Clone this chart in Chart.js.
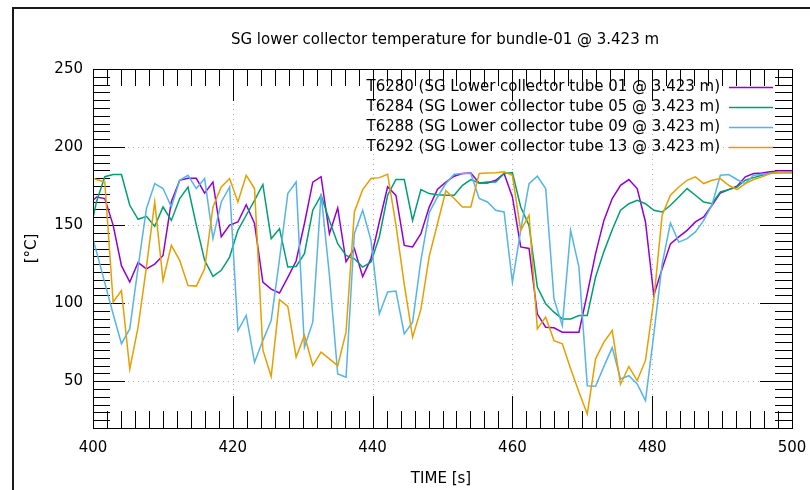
<!DOCTYPE html>
<html>
<head>
<meta charset="utf-8">
<script src="https://cdn.jsdelivr.net/npm/chart.js@4/dist/chart.umd.min.js"></script>
<style>
  body { margin: 0; background: #fff; }
  canvas { display: block; }
</style>
</head>
<body>
<canvas id="SG_Plot" width="810" height="490"></canvas>
<script>
// sample times [s] (first point lies just left of the 400 s edge and gets clipped)
const times = [
	399.31, 400.50, 401.69, 402.88, 404.07, 405.26, 406.45, 407.64, 408.83, 410.02,
	411.21, 412.40, 413.59, 414.78, 415.97, 417.16, 418.35, 419.54, 420.73, 421.92,
	423.11, 424.30, 425.49, 426.68, 427.87, 429.06, 430.25, 431.44, 432.63, 433.82,
	435.01, 436.20, 437.39, 438.58, 439.77, 440.96, 442.15, 443.34, 444.53, 445.72,
	446.91, 448.10, 449.29, 450.48, 451.67, 452.86, 454.05, 455.24, 456.43, 457.62,
	458.81, 460.00, 461.19, 462.38, 463.57, 464.76, 465.95, 467.14, 468.33, 469.52,
	470.71, 471.90, 473.09, 474.28, 475.47, 476.66, 477.85, 479.04, 480.23, 481.42,
	482.61, 483.80, 484.99, 486.18, 487.37, 488.56, 489.75, 490.94, 492.13, 493.32,
	494.51, 495.70, 496.89, 498.08, 499.27, 500.46
];

// T6280 (tube 01)
const t6280 = [
	163, 168, 167, 150, 124, 113.5, 126, 122, 125, 130.5,
	165, 178.7, 180, 180, 170.5, 177.5, 142.5, 150, 152, 163,
	151, 113.5, 109, 106.5, 116.5, 127, 151, 177.5, 181, 144.5,
	161, 126.5, 135, 117, 128.5, 152, 174.5, 169, 137, 136,
	144.5, 161.5, 173, 177.5, 181.3, 183, 183.4, 177, 177, 178.7,
	183, 168, 136, 135, 93, 84.6, 84.2, 81.4, 81.4, 81.4,
	106, 131.7, 153, 167, 175.5, 179.2, 173.4, 152, 105, 122,
	138, 142.4, 146.6, 152, 155.2, 162.7, 170.6, 172.7, 174.9, 180.9,
	183, 183.4, 184.1, 184.7, 184.7, 184.7
];

// T6284 (tube 05)
const t6284 = [
	140, 165, 181, 182.4, 182.4, 162.7, 153.7, 155.6, 149.2, 161.6,
	153, 167, 174.4, 150, 127.4, 117.1, 121, 129.5, 146.6, 156.3,
	165.9, 176, 141.3, 147.7, 123.1, 123.5, 131.7, 159.5, 169.1, 153,
	138.1, 130.6, 128.4, 123.1, 126.3, 142.4, 169.1, 179.2, 179.2, 153,
	172.7, 170.2, 169.5, 169.1, 169.1, 175.5, 179.2, 177, 177.6, 177.6,
	183, 183.6, 161.6, 149.8, 110.3, 99.6, 94.2, 89.9, 89.9, 92.1,
	92.1, 116.7, 133, 147, 159.5, 163.7, 165.9, 163.7, 159.5, 158.4,
	162.7, 168, 173.4, 169.1, 164.8, 163.7, 171.2, 172.7, 174.4, 178.7,
	180.4, 181.9, 183.4, 184.1, 184.1, 184.1
];

// T6288 (tube 09)
const t6288 = [
	152, 133, 113, 93, 74, 83.5, 123, 160.5, 176.6, 173.4,
	161.6, 178.7, 181.9, 173.4, 179.8, 141.3, 164.8, 174.4, 82.4, 92.1,
	62.1, 76, 88.9, 128, 170.2, 177.6, 71.7, 87.8, 170.2, 118,
	54.6, 52.5, 144.5, 159.5, 140.2, 93.1, 107.1, 107.7, 80.3, 87.8,
	127.4, 158, 168, 176.6, 182.6, 183, 183, 167, 164.8, 159.5,
	158.4, 113.5, 146.6, 176.6, 181.3, 173.4, 102.8, 85.6, 146.6, 123.1,
	47.1, 46.8, 59.5, 71.5, 51.4, 53.5, 48.2, 37.5, 80, 125,
	151.3, 139.1, 141.3, 145.6, 153, 163, 181.9, 182.4, 179.2, 176.6,
	181.9, 182.4, 183, 183.4, 183.4, 183.4
];

// T6292 (tube 13)
const t6292 = [
	181, 179.2, 177.6, 100.6, 108.1, 57.8, 84.6, 123.1, 164.8, 114.5,
	137, 127.4, 111.3, 110.9, 122, 161.6, 174.4, 179.8, 164.8, 181.9,
	173.4, 70, 53, 102.2, 97.9, 65.4, 79.3, 60, 68.6, 64.3,
	60, 81.4, 158.4, 172.7, 179.8, 180.4, 182.6, 150, 112, 78.2,
	96, 130, 151, 172, 167, 161.6, 161.6, 183, 183.4, 183.6,
	184.1, 181.9, 146.6, 156.3, 83.5, 91, 76, 74, 58, 43,
	29, 64.3, 75, 82.5, 48, 59.4, 50.4, 63.3, 102, 156.3,
	169.1, 174.4, 178.7, 180.9, 176.6, 178.7, 179.8, 175.5, 172.7, 176.6,
	179.2, 180.9, 183, 184.1, 184, 184
];

const series_labels = [
	"T6280 (SG Lower collector tube 01 @ 3.423 m)",
	"T6284 (SG Lower collector tube 05 @ 3.423 m)",
	"T6288 (SG Lower collector tube 09 @ 3.423 m)",
	"T6292 (SG Lower collector tube 13 @ 3.423 m)"
];
const series_colors = ["#9400d3", "#009e73", "#56b4e9", "#e69f00"];

const x_ticks = [400, 420, 440, 460, 480, 500];
const y_ticks = [50, 100, 150, 200, 250];

const chart_title = "SG lower collector temperature for bundle-01 @ 3.423 m";
const x_title = "TIME [s]";
const y_title = "[\u00B0C]";

const FONT = '"DejaVu Sans", Verdana, sans-serif';

function Make_Dataset(i, values) {
	return {
		label: series_labels[i],
		data: times.map((t, k) => ({ x: t, y: values[k] })),
		borderColor: series_colors[i],
		borderWidth: 1.5,
		fill: false,
		tension: 0,
		pointRadius: 0,
		clip: 0,
		order: 3 - i,	// later series on top, like gnuplot
	};
}

function Line(ctx, x0, y0, x1, y1) {
	ctx.beginPath();
	ctx.moveTo(x0, y0);
	ctx.lineTo(x1, y1);
	ctx.stroke();
}

// gnuplot look: dotted grid, inward ticks on all four sides, frame, title, key
const gnuplot_frame = {
	id: "gnuplot_frame",
	beforeDatasetsDraw(chart) {
		const ctx = chart.ctx;
		const a = chart.chartArea;
		const x = chart.scales.x, y = chart.scales.y;
		ctx.save();

		ctx.strokeStyle = "#b0b0b0";
		ctx.lineWidth = 1;
		ctx.setLineDash([1, 4]);
		x_ticks.slice(1, -1).forEach(v => {
			const px = Math.round(x.getPixelForValue(v)) + 0.5;
			Line(ctx, px, a.top, px, a.bottom);
		});
		y_ticks.slice(0, -1).forEach(v => {
			const py = Math.round(y.getPixelForValue(v)) + 0.5;
			Line(ctx, a.left, py, a.right, py);
		});
		ctx.setLineDash([]);

		ctx.strokeStyle = "#000";
		for (let v = x.min; v <= x.max; v += 2) {
			const len = (v % 20 === 0) ? 32 : 17;
			const px = Math.round(x.getPixelForValue(v)) + 0.5;
			Line(ctx, px, a.bottom, px, a.bottom - len);
			Line(ctx, px, a.top, px, a.top + len);
		}
		for (let v = 25; v <= y.max; v += 5) {
			const len = (v % 50 === 0) ? 32 : 17;
			const py = Math.round(y.getPixelForValue(v)) + 0.5;
			Line(ctx, a.left, py, a.left + len, py);
			Line(ctx, a.right, py, a.right - len, py);
		}
		ctx.restore();
	},
	afterDatasetsDraw(chart) {
		const ctx = chart.ctx;
		const a = chart.chartArea;
		ctx.save();

		ctx.strokeStyle = "#000";
		ctx.lineWidth = 1;
		ctx.strokeRect(Math.round(a.left) + 0.5, Math.round(a.top) + 0.5,
			Math.round(a.right - a.left), Math.round(a.bottom - a.top));

		// key
		ctx.font = "15px " + FONT;
		ctx.textAlign = "right";
		ctx.textBaseline = "middle";
		chart.data.datasets.forEach((ds, i) => {
			const yy = 87 + i * 20;
			ctx.fillStyle = "#000";
			ctx.fillText(ds.label, 720, yy);
			ctx.strokeStyle = ds.borderColor;
			ctx.lineWidth = 1.5;
			Line(ctx, 729, yy + 0.5, 773, yy + 0.5);
		});

		// titles
		ctx.fillStyle = "#000";
		ctx.textAlign = "center";
		ctx.fillText(chart_title, 445, 40);
		ctx.fillText(x_title, 441, 479);
		ctx.translate(32, (a.top + a.bottom) / 2);
		ctx.rotate(-Math.PI / 2);
		ctx.fillText(y_title, 0, 0);
		ctx.restore();

		// window frame
		ctx.save();
		ctx.strokeStyle = "#1a1a1a";
		ctx.lineWidth = 2;
		ctx.beginPath();
		ctx.moveTo(13, 490);
		ctx.lineTo(13, 8);
		ctx.lineTo(810, 8);
		ctx.stroke();
		ctx.restore();
	}
};

const sg_plot = document.getElementById("SG_Plot").getContext("2d");

var SG_Plot_Obj = new Chart(sg_plot, {
	type: "line",
	data: {
		datasets: [
			Make_Dataset(0, t6280),
			Make_Dataset(1, t6284),
			Make_Dataset(2, t6288),
			Make_Dataset(3, t6292),
		]
	},
	options: {
		responsive: false,
		animation: false,
		events: [],	// no hover
		layout: {
			padding: { top: 69, right: 18, left: 0, bottom: 0 }
		},
		plugins: {
			legend: { display: false },
			title: { display: false },
			tooltip: { enabled: false },
		},
		scales: {
			x: {
				type: "linear",
				min: 400,
				max: 500,
				afterFit: s => { s.height = 62; s.paddingLeft = 0; s.paddingRight = 0; },
				afterBuildTicks: s => { s.ticks = x_ticks.map(v => ({ value: v })); },
				grid: { display: false, drawTicks: false },
				border: { display: false },
				ticks: {
					autoSkip: false,
					maxRotation: 0,
					padding: 11,
					color: "#000",
					font: { family: FONT, size: 15 },
				},
			},
			y: {
				type: "linear",
				min: 20,
				max: 250,
				afterFit: s => { s.width = 93; s.paddingTop = 0; s.paddingBottom = 0; },
				afterBuildTicks: s => { s.ticks = y_ticks.map(v => ({ value: v })); },
				grid: { display: false, drawTicks: false },
				border: { display: false },
				ticks: {
					padding: 10,
					color: "#000",
					font: { family: FONT, size: 15 },
				},
			}
		}
	},
	plugins: [gnuplot_frame]
});
</script>
</body>
</html>
